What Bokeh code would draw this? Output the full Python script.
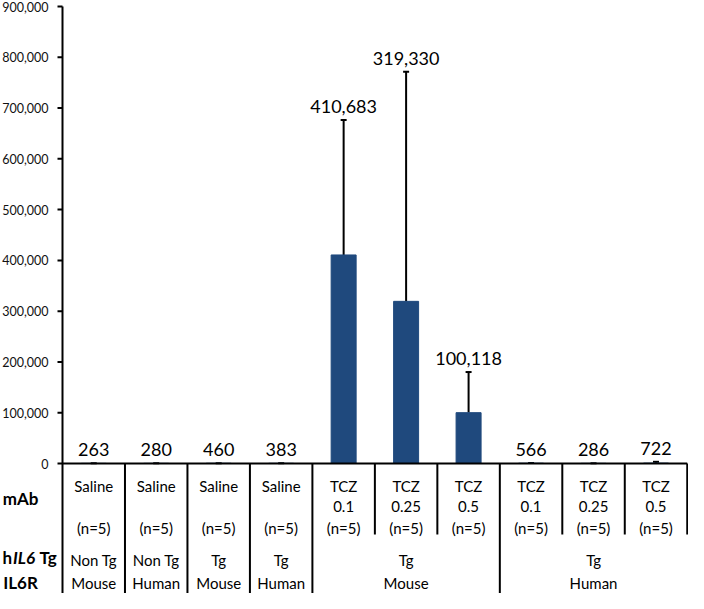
from bokeh.plotting import figure
from bokeh.models import Range1d, ColumnDataSource, Whisker, TeeHead
from bokeh.core.properties import value
from bokeh.embed import file_html
from bokeh.resources import INLINE

# ---------------- data ----------------
means = [263, 280, 460, 383, 410683, 319330, 100118, 566, 286, 722]
sds = [150, 120, 250, 200, 266000, 452000, 80000, 400, 150, 2600]
mab = ["Saline", "Saline", "Saline", "Saline", "TCZ", "TCZ", "TCZ", "TCZ", "TCZ", "TCZ"]
dose = ["", "", "", "", "0.1", "0.25", "0.5", "0.1", "0.25", "0.5"]
n_text = ["(n=5)"] * 10
tg_groups = [("Non Tg", 0, 0), ("Non Tg", 1, 1), ("Tg", 2, 2), ("Tg", 3, 3), ("Tg", 4, 6), ("Tg", 7, 9)]
il6r_groups = [("Mouse", 0, 0), ("Human", 1, 1), ("Mouse", 2, 2), ("Human", 3, 3), ("Mouse", 4, 6), ("Human", 7, 9)]
y_ticks = [0, 100000, 200000, 300000, 400000, 500000, 600000, 700000, 800000, 900000]
row_headers = ["mAb", "IL6R"]

# ---------------- layout ----------------
W, H = 688, 593
ZERO_PX = 463            # figure pixel row of the zero line
TOP_PX = 6               # figure pixel row of the 900,000 tick
AXIS_PX = 62             # figure pixel column of the value axis
XMAX = 10.02
FONT = "Lato"
BAR_COLOR = "#1F497D"

upp = 900000 / (ZERO_PX - TOP_PX)         # data units per pixel (y)
y_end = 900000 + TOP_PX * upp
y_start = -(H - ZERO_PX) * upp
ppu = (W - AXIS_PX) / XMAX                # pixels per category (x)
x_start = -AXIS_PX / ppu


def below(px):
    return -px * upp


def xpx(px_from_axis):
    return px_from_axis / ppu


n = len(means)
xc = [i + 0.5 for i in range(n)]

p = figure(width=W, height=H, x_range=Range1d(x_start, XMAX), y_range=Range1d(y_start, y_end),
           x_axis_type=None, y_axis_type=None, output_backend="svg", toolbar_location=None,
           min_border_left=0, min_border_right=0, min_border_top=0, min_border_bottom=0)
p.outline_line_color = None
p.xgrid.visible = False
p.ygrid.visible = False
p.background_fill_color = "white"
p.border_fill_color = "white"

# bars
src = ColumnDataSource(dict(x=xc, top=means, upper=[m + s for m, s in zip(means, sds)],
                            lab=[f"{m:,}" for m in means],
                            laby=[max(m + s, 0) + 7 * upp for m, s in zip(means, sds)]))
p.vbar(x="x", top="top", width=0.4, source=src, fill_color=BAR_COLOR, line_color=BAR_COLOR)

# error bars (upper only)
wh = Whisker(base="x", upper="upper", lower="top", source=src, dimension="height",
             line_color="black", line_width=2,
             upper_head=TeeHead(size=6, line_width=2, line_color="black"), lower_head=None)
p.add_layout(wh)

# data labels
p.text(x="x", y="laby", text="lab", source=src, text_align="center", text_baseline="bottom",
       text_font=value(FONT), text_font_size="18px", text_color="black")

# value axis: line, ticks, labels
p.segment(x0=[0], y0=[900000], x1=[0], y1=[y_start], line_color="black", line_width=2)
p.segment(x0=[xpx(-5)] * len(y_ticks), y0=y_ticks, x1=[0] * len(y_ticks), y1=y_ticks,
          line_color="black", line_width=2)
p.text(x=[xpx(-14)] * len(y_ticks), y=y_ticks, text=[f"{t:,}" for t in y_ticks],
       text_align="right", text_baseline="middle", text_font=value(FONT),
       text_font_size="12.5px", text_color="#111111")

# zero line
p.segment(x0=[0], y0=[0], x1=[n], y1=[0], line_color="black", line_width=2)

# table separators
full_bounds = [1, 2, 3, 4, 7]
short_bounds = [5, 6, 8, 9, 10]
p.segment(x0=full_bounds, x1=full_bounds, y0=[0] * len(full_bounds),
          y1=[y_start] * len(full_bounds), line_color="black", line_width=2)
p.segment(x0=short_bounds, x1=short_bounds, y0=[0] * len(short_bounds),
          y1=[below(71)] * len(short_bounds), line_color="black", line_width=2)

# table text
cell = dict(text_align="center", text_baseline="middle", text_font=value(FONT),
            text_font_size="15px", text_color="black")
p.text(x=xc, y=[below(22)] * n, text=mab, **cell)
p.text(x=xc, y=[below(43)] * n, text=dose, **cell)
p.text(x=xc, y=[below(64)] * n, text=n_text, **cell)
p.text(x=[(a + b + 1) / 2 for _, a, b in tg_groups], y=[below(96)] * len(tg_groups),
       text=[t for t, _, _ in tg_groups], **cell)
p.text(x=[(a + b + 1) / 2 for _, a, b in il6r_groups], y=[below(119)] * len(il6r_groups),
       text=[t for t, _, _ in il6r_groups], **cell)

# row headers (left of the axis)
hdr = dict(text_baseline="middle", text_font=value(FONT), text_font_size="17px",
           text_font_style="bold", text_color="black")
p.text(x=[xpx(-42)] * 2, y=[below(35), below(119)], text=row_headers, text_align="center", **hdr)
p.text(x=[xpx(-60)], y=[below(94)], text=["h"], text_align="left", **hdr)
hdr_it = dict(hdr)
hdr_it["text_font_style"] = "bold italic"
p.text(x=[xpx(-49.5)], y=[below(94)], text=["IL6"], text_align="left", **hdr_it)
p.text(x=[xpx(-23)], y=[below(94)], text=["Tg"], text_align="left", **hdr)

open("out.html", "w").write(file_html(p, INLINE))
